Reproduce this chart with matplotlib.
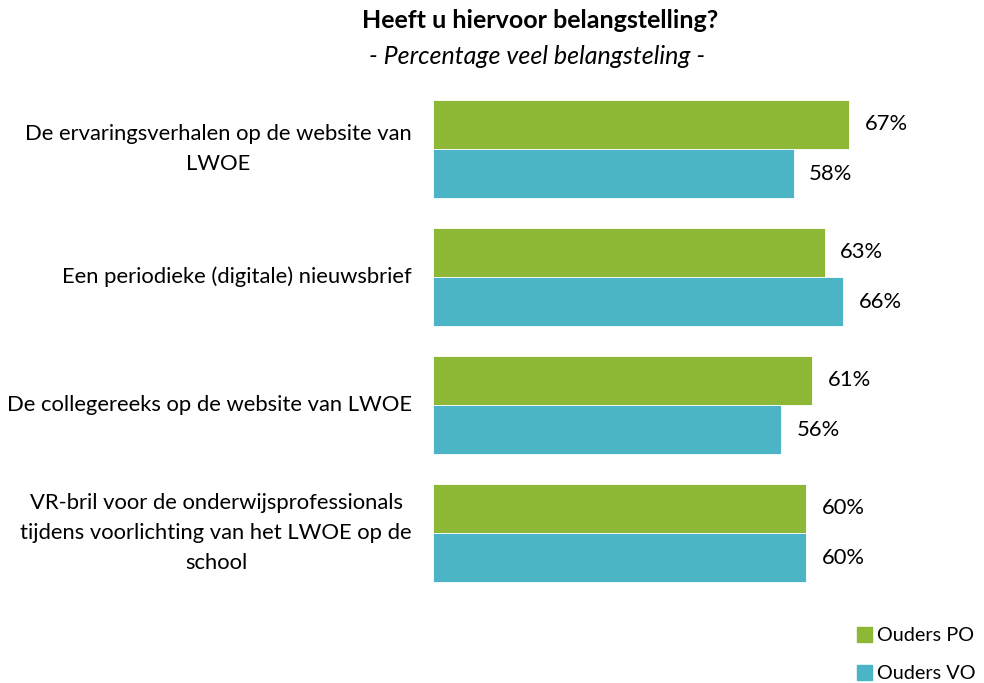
import matplotlib.pyplot as plt
import numpy as np
from matplotlib.patches import Patch

# --- Data ---
categories = [
    'De ervaringsverhalen op de website van\nLWOE',
    'Een periodieke (digitale) nieuwsbrief',
    'De collegereeks op de website van LWOE',
    'VR-bril voor de onderwijsprofessionals\ntijdens voorlichting van het LWOE op de\nschool',
]
ouders_po = [67, 63, 61, 60]
ouders_vo = [58, 66, 56, 60]
series_names = ['Ouders PO', 'Ouders VO']

green = '#8DB836'
blue = '#4BB5C6'
font = 'Lato'
fs = 15.8

fig = plt.figure(figsize=(9.84, 6.83), dpi=100)
ax = fig.add_axes([433 / 984, 86 / 683, 547 / 984, 512 / 683])

y = np.arange(len(categories))
h = 0.383
ax.barh(y - h / 2, ouders_po, height=h, color=green, edgecolor='white', linewidth=0.6)
ax.barh(y + h / 2, ouders_vo, height=h, color=blue, edgecolor='white', linewidth=0.6)

for i in range(len(categories)):
    ax.text(ouders_po[i] + 2.5, y[i] - h / 2, f'{ouders_po[i]}%', va='center', ha='left',
            fontsize=fs, family=font)
    ax.text(ouders_vo[i] + 2.5, y[i] + h / 2, f'{ouders_vo[i]}%', va='center', ha='left',
            fontsize=fs, family=font)
    ax.text(-3.4, y[i], categories[i], va='center', ha='right', multialignment='center',
            fontsize=fs, family=font, linespacing=1.6)

ax.set_xlim(0, 88)
ax.set_ylim(len(categories) - 0.5, -0.5)
ax.axis('off')

fig.text(540 / 984, 1 - 20 / 683, 'Heeft u hiervoor belangstelling?', ha='center', va='center',
         fontsize=18, fontweight='bold', family=font)
fig.text(537 / 984, 1 - 57 / 683, '- Percentage veel belangsteling -', ha='center', va='center',
         fontsize=18, style='italic', family=font)

handles = [Patch(color=green), Patch(color=blue)]
fig.legend(handles, series_names, loc='upper left', bbox_to_anchor=(857 / 984, 1 - 627 / 683),
           frameon=False, prop={'family': font, 'size': 14.3}, handlelength=0.75, handleheight=0.75,
           handletextpad=0.25, labelspacing=1.05, borderaxespad=0, borderpad=0)

fig.savefig('out.png', dpi=100)
